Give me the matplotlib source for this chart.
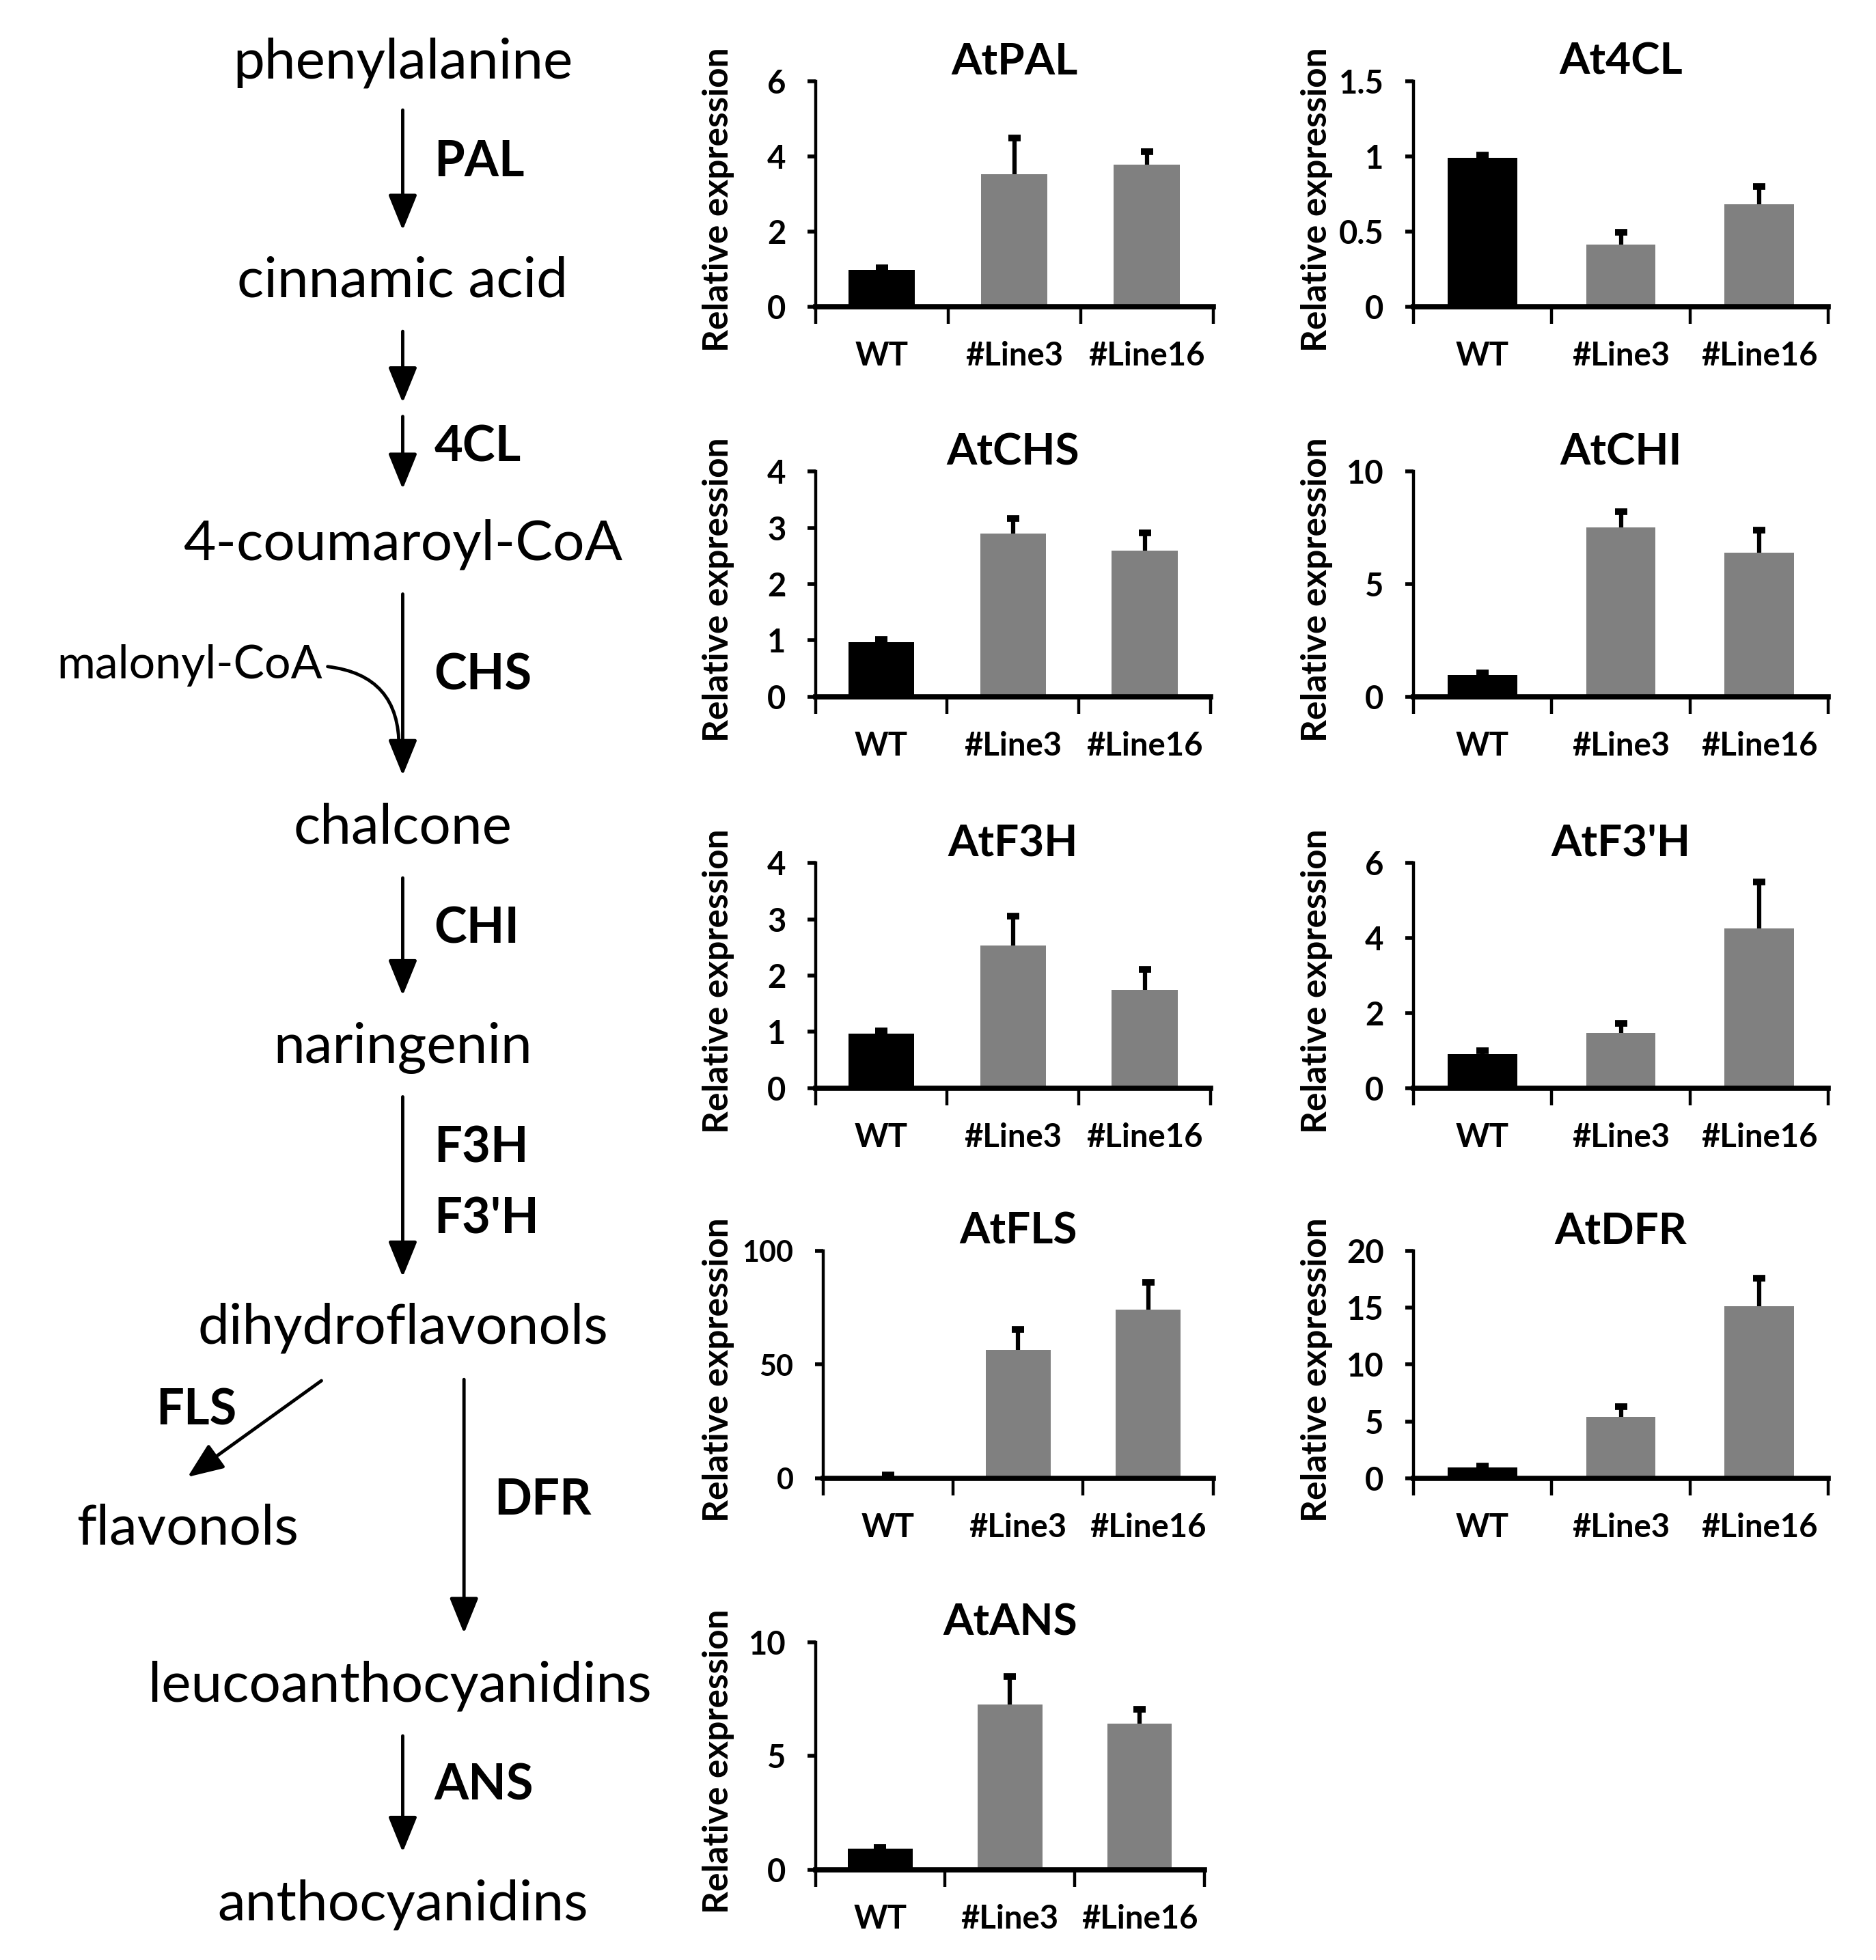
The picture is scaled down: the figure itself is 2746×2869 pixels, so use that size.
import matplotlib
matplotlib.use("Agg")
import matplotlib.pyplot as plt
from matplotlib.patches import FancyArrowPatch

# ---------------- data ----------------
categories = ["WT", "#Line3", "#Line16"]
genes = ["AtPAL", "At4CL", "AtCHS", "AtCHI", "AtF3H", "AtF3'H", "AtFLS", "AtDFR", "AtANS"]

pal_mean = [0.97, 3.53, 3.77]
pal_err = [0.05, 0.95, 0.35]
c4l_mean = [0.99, 0.41, 0.68]
c4l_err = [0.02, 0.085, 0.12]
chs_mean = [0.97, 2.90, 2.59]
chs_err = [0.05, 0.27, 0.32]
chi_mean = [0.95, 7.51, 6.38]
chi_err = [0.10, 0.70, 1.03]
f3h_mean = [0.97, 2.53, 1.74]
f3h_err = [0.04, 0.53, 0.37]
f3ph_mean = [0.91, 1.47, 4.25]
f3ph_err = [0.08, 0.26, 1.24]
fls_mean = [0.6, 56.5, 74.0]
fls_err = [0.8, 8.9, 12.2]
dfr_mean = [0.93, 5.40, 15.1]
dfr_err = [0.15, 0.87, 2.45]
ans_mean = [0.92, 7.26, 6.43]
ans_err = [0.08, 1.22, 0.61]

pal_ticks = [0, 2, 4, 6]
c4l_ticks = [0, 0.5, 1, 1.5]
chs_ticks = [0, 1, 2, 3, 4]
chi_ticks = [0, 5, 10]
f3h_ticks = [0, 1, 2, 3, 4]
f3ph_ticks = [0, 2, 4, 6]
fls_ticks = [0, 50, 100]
dfr_ticks = [0, 5, 10, 15, 20]
ans_ticks = [0, 5, 10]

pathway_compounds = ["phenylalanine", "cinnamic acid", "4-coumaroyl-CoA", "chalcone",
                     "naringenin", "dihydroflavonols", "flavonols",
                     "leucoanthocyanidins", "anthocyanidins"]
enzymes = ["PAL", "4CL", "CHS", "CHI", "F3H", "F3'H", "FLS", "DFR", "ANS"]

# ---------------- layout ----------------
W, H = 2746, 2869
S = W / 1500.0
plt.rcParams["font.family"] = ["Lato", "DejaVu Sans"]
plt.rcParams["font.weight"] = "bold"
fig = plt.figure(figsize=(W / 100, H / 100), dpi=100)

bar_colors = ["#000000", "#808080", "#808080"]


def add_ax(x0, y0, x1, y1):
    return fig.add_axes([x0 * S / W, 1 - y1 * S / H, (x1 - x0) * S / W, (y1 - y0) * S / H])


def bar_panel(box, label_x, title, mean, err, ticks, tick_fs=34):
    ax = add_ax(*box)
    x = list(range(len(categories)))
    top = [m + e for m, e in zip(mean, err)]
    ax.bar(x, mean, width=0.5, color=bar_colors, zorder=2)
    ax.vlines(x, mean, top, colors="black", linewidth=4.5, zorder=3)
    ax.plot(x, top, linestyle="none", marker="_", markersize=13, mew=7,
            color="black", zorder=3)
    ax.set_xlim(-0.5, 2.5)
    ax.set_ylim(0, ticks[-1])
    for s in ["top", "right"]:
        ax.spines[s].set_visible(False)
    ax.spines["left"].set_linewidth(3.2)
    ax.spines["bottom"].set_linewidth(5.5)
    ax.spines["left"].set_zorder(4)
    ax.spines["bottom"].set_zorder(4)
    ax.set_yticks(ticks)
    ax.set_yticklabels([("%g" % t) for t in ticks], fontsize=tick_fs, fontweight="bold")
    ax.tick_params(axis="y", direction="out", length=9, width=4, pad=22)
    ax.set_xticks([-0.5, 0.5, 1.5, 2.5])
    ax.set_xticklabels([])
    ax.tick_params(axis="x", which="major", direction="out", length=18, width=3.2)
    ax.set_xticks(x, minor=True)
    ax.set_xticklabels(categories, minor=True, fontsize=34, fontweight="bold")
    ax.tick_params(axis="x", which="minor", length=0, pad=36)
    ax.set_ylabel("Relative expression", fontsize=37, fontweight="bold")
    ax.yaxis.set_label_coords((label_x - box[0]) / (box[2] - box[0]), 0.475)
    ax.set_title(title, fontsize=46, fontweight="bold", pad=4)
    return ax


L = (652, 970)
R = (1130, 1462)
LX, RX = 587, 1066
rows = [(65, 245), (377, 557), (690, 870), (1000, 1182), (1313, 1495)]

bar_panel((L[0], rows[0][0], L[1], rows[0][1]), LX, genes[0], pal_mean, pal_err, pal_ticks)
bar_panel((R[0], rows[0][0], R[1], rows[0][1]), RX, genes[1], c4l_mean, c4l_err, c4l_ticks)
bar_panel((L[0], rows[1][0], 968, rows[1][1]), LX, genes[2], chs_mean, chs_err, chs_ticks)
bar_panel((R[0], rows[1][0], R[1], rows[1][1]), RX, genes[3], chi_mean, chi_err, chi_ticks)
bar_panel((L[0], rows[2][0], 968, rows[2][1]), LX, genes[4], f3h_mean, f3h_err, f3h_ticks)
bar_panel((R[0], rows[2][0], R[1], rows[2][1]), RX, genes[5], f3ph_mean, f3ph_err, f3ph_ticks)
bar_panel((658, rows[3][0], 970, rows[3][1]), LX, genes[6], fls_mean, fls_err, fls_ticks,
          tick_fs=31)
bar_panel((R[0], rows[3][0], R[1], rows[3][1]), RX, genes[7], dfr_mean, dfr_err, dfr_ticks)
bar_panel((L[0], rows[4][0], 963, rows[4][1]), LX, genes[8], ans_mean, ans_err, ans_ticks)

# ---------------- pathway ----------------
pa = fig.add_axes([0, 0, 1, 1], zorder=-1)
pa.set_xlim(0, 1500)
pa.set_ylim(H / S, 0)
pa.axis("off")

CFS = 59
EFS = 52

compound_pos = [(322, 50), (322, 225), (322, 435), (322, 662), (322, 838),
                (322, 1062), (150, 1222), (320, 1348), (322, 1523)]
for name, (cx, cy) in zip(pathway_compounds, compound_pos):
    pa.text(cx, cy, name, ha="center", va="center", fontsize=CFS, fontweight="normal")

pa.text(258, 532, "malonyl-CoA", ha="right", va="center", fontsize=49, fontweight="normal")

enzyme_pos = [(347, 130, "left"), (347, 358, "left"), (347, 540, "left"),
              (347, 743, "left"), (347, 918, "left"), (347, 975, "left"),
              (157, 1128, "center"), (395, 1200, "left"), (347, 1428, "left")]
for name, (ex, ey, ha) in zip(enzymes, enzyme_pos):
    pa.text(ex, ey, name, ha=ha, va="center", fontsize=EFS, fontweight="bold")


def arrow(p0, p1, **kw):
    a = FancyArrowPatch(p0, p1, arrowstyle="-|>,head_length=1.6,head_width=0.65",
                        mutation_scale=20, lw=3.5, color="black",
                        shrinkA=0, shrinkB=0, **kw)
    pa.add_patch(a)


arrow((322, 88), (322, 184))
arrow((322, 265), (322, 322))
arrow((322, 333), (322, 391))
arrow((322, 475), (322, 620))
arrow((322, 702), (322, 796))
arrow((322, 877), (322, 1021))
arrow((257, 1104), (150, 1181))
arrow((371, 1103), (371, 1306))
arrow((322, 1388), (322, 1481))

curve = FancyArrowPatch((262, 533), (319, 598), arrowstyle="-",
                        connectionstyle="arc3,rad=-0.45", lw=3.5, color="black",
                        shrinkA=0, shrinkB=0)
pa.add_patch(curve)

fig.savefig("out.png", dpi=100)
